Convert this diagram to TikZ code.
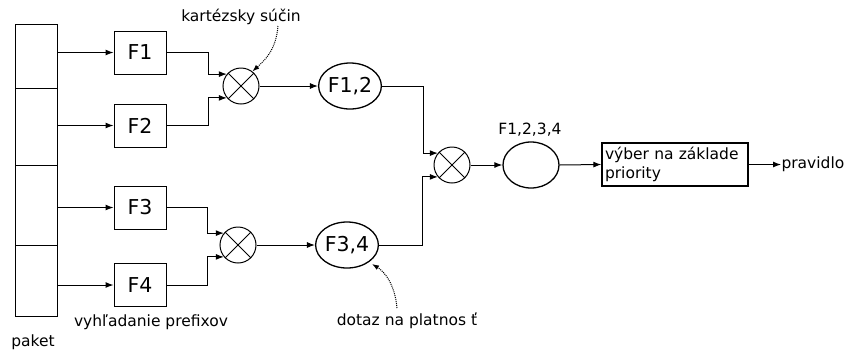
\documentclass[tikz,border=0pt]{standalone}
\usepackage{fontspec}
\setmainfont{DejaVu Sans}
\usetikzlibrary{shapes.geometric,arrows.meta}
\begin{document}
\begin{tikzpicture}[x=1pt,y=-1pt,
  line width=1pt,
  arr/.style={-{Latex[length=8pt,width=6pt]}},
  fbox/.style={draw,minimum width=52pt,minimum height=43pt,inner sep=0pt,font=\fontsize{20.5}{24}\selectfont},
  cell/.style={draw,minimum width=42pt,inner sep=0pt,anchor=north west},
  ell/.style={draw,ellipse,line width=1.3pt,minimum width=56pt,minimum height=46pt,inner sep=0pt,font=\fontsize{20.5}{24}\selectfont},
  prod/.style={draw,circle,minimum size=36pt,inner sep=0pt},
  lab/.style={font=\fontsize{15.5}{19}\selectfont,inner sep=0pt},
  note/.style={densely dotted,-{Latex[length=7pt,width=5pt]}}]
\useasboundingbox (0,0) rectangle (847,349);
% paket column
\node[cell,minimum height=64pt] (p1) at (15,24) {};
\node[cell,minimum height=77pt] (p2) at (15,88) {};
\node[cell,minimum height=80pt] (p3) at (15,165) {};
\node[cell,minimum height=71pt] (p4) at (15,245) {};
% F boxes
\node[fbox] (F1) at (140,52.5) {F1};
\node[fbox] (F2) at (140,125.5) {F2};
\node[fbox] (F3) at (140,207.5) {F3};
\node[fbox] (F4) at (140,285) {F4};
\draw[arr] (F1.west -| p1.east) -- (F1.west);
\draw[arr] (F2.west -| p2.east) -- (F2.west);
\draw[arr] (F3.west -| p3.east) -- (F3.west);
\draw[arr] (F4.west -| p4.east) -- (F4.west);
% products
\node[prod] (o1) at (241,86) {};
\node[prod] (o2) at (238,245) {};
\node[prod] (o3) at (452,165) {};
\foreach \o in {o1,o2,o3}{
  \draw (\o.45) -- (\o.225) (\o.135) -- (\o.315);
}
\draw[arr] (F1.east) -- ++(42,0) |- (o1.140);
\draw[arr] (F2.east) -- ++(42,0) |- (o1.220);
\draw[arr] (F3.east) -- ++(41,0) |- (o2.140);
\draw[arr] (F4.east) -- ++(41,0) |- (o2.220);
% ellipses
\node[ell] (F12) at (350,86) {F1,2};
\node[ell] (F34) at (347,245) {F3,4};
\draw[arr] (o1.east) -- (F12.west);
\draw[arr] (o2.east) -- (F34.west);
\draw[arr] (F12.east) -- ++(41,0) |- (o3.140);
\draw[arr] (F34.east) -- ++(43,0) |- (o3.220);
\node[ell] (F1234) at (531,165) {};
\node[lab] (l1234) at (530,130) {F1,2,3,4};
\draw[arr] (o3.east) -- (F1234.west);
% selection box
\node[draw,line width=1.3pt,minimum width=146pt,minimum height=43pt,text width=140pt,align=left,inner sep=3pt,font=\fontsize{15.5}{19}\selectfont] (sel) at (675,164.5) {výber na základe\\priority};
\draw[arr] (F1234.east) -- (sel.west);
\node[lab,anchor=west] (prav) at (781,164.5) {pravidlo};
\draw[arr] (sel.east) -- (prav.west);
% labels
\node[lab] (kart) at (241,17) {kartézsky súčin};
\node[lab] (dot) at (407,321) {dotaz na platnos ť};
\node[lab] (vyh) at (151,322) {vyhľadanie prefixov};
\node[lab] (pak) at (33,342) {paket};
\coordinate (ks) at (278,26);
\coordinate (ds) at (397,308);
\draw[note] (ks) .. controls (276,50) and (265,60) .. (o1.52);
\draw[note] (ds) .. controls (395,285) and (385,272) .. (372,264);
\end{tikzpicture}
\end{document}
